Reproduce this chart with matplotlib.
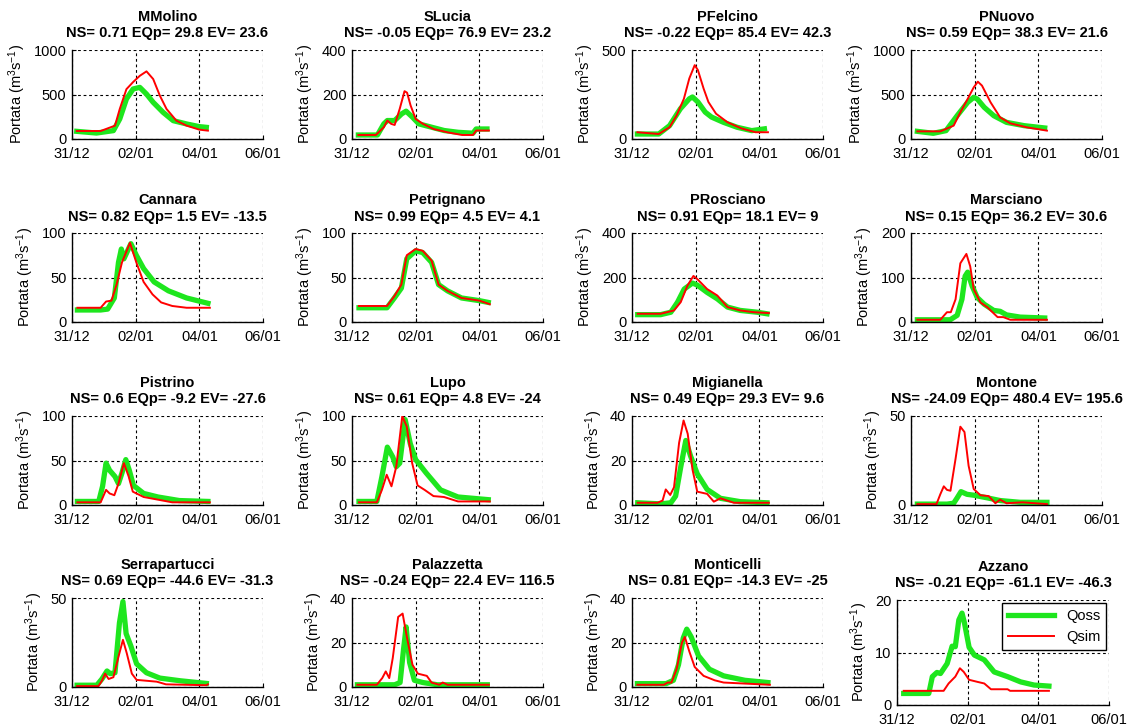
import matplotlib
matplotlib.use("Agg")
import matplotlib.pyplot as plt

# stazioni e statistiche
names = ["MMolino", "SLucia", "PFelcino", "PNuovo",
         "Cannara", "Petrignano", "PRosciano", "Marsciano",
         "Pistrino", "Lupo", "Migianella", "Montone",
         "Serrapartucci", "Palazzetta", "Monticelli", "Azzano"]
stats = ["NS= 0.71 EQp= 29.8 EV= 23.6", "NS= -0.05 EQp= 76.9 EV= 23.2",
         "NS= -0.22 EQp= 85.4 EV= 42.3", "NS= 0.59 EQp= 38.3 EV= 21.6",
         "NS= 0.82 EQp= 1.5 EV= -13.5", "NS= 0.99 EQp= 4.5 EV= 4.1",
         "NS= 0.91 EQp= 18.1 EV= 9", "NS= 0.15 EQp= 36.2 EV= 30.6",
         "NS= 0.6 EQp= -9.2 EV= -27.6", "NS= 0.61 EQp= 4.8 EV= -24",
         "NS= 0.49 EQp= 29.3 EV= 9.6", "NS= -24.09 EQp= 480.4 EV= 195.6",
         "NS= 0.69 EQp= -44.6 EV= -31.3", "NS= -0.24 EQp= 22.4 EV= 116.5",
         "NS= 0.81 EQp= -14.3 EV= -25", "NS= -0.21 EQp= -61.1 EV= -46.3"]
y_ticks = [[0, 500, 1000], [0, 200, 400], [0, 500], [0, 500, 1000],
           [0, 50, 100], [0, 50, 100], [0, 200, 400], [0, 100, 200],
           [0, 50, 100], [0, 50, 100], [0, 20, 40], [0, 50],
           [0, 50], [0, 20, 40], [0, 20, 40], [0, 10, 20]]
x_ticks = [0, 2, 4, 6]
x_labels = ["31/12", "02/01", "04/01", "06/01"]

# (giorni dal 31/12, portata)
mmolino_oss = [(0.15, 86), (0.77, 67), (1.3, 94), (1.5, 225), (1.71, 450), (1.92, 562), (2.13, 580),
               (2.34, 505), (2.55, 412), (2.86, 300), (3.18, 206), (3.6, 169), (4.0, 139), (4.22, 131)]
mmolino_sim = [(0.15, 90), (0.9, 90), (1.35, 150), (1.5, 337), (1.71, 560), (1.92, 640), (2.13, 710),
               (2.34, 760), (2.55, 674), (2.76, 487), (2.97, 337), (3.28, 206), (3.6, 150), (4.0, 105), (4.27, 94)]
slucia_oss = [(0.2, 18), (0.8, 18), (1.0, 68), (1.11, 83), (1.34, 83), (1.56, 113), (1.7, 125),
              (1.9, 98), (2.1, 68), (2.5, 53), (2.9, 38), (3.34, 30), (3.8, 26), (3.9, 45), (4.24, 45)]
slucia_sim = [(0.2, 18), (0.75, 18), (1.0, 53), (1.11, 83), (1.23, 68), (1.34, 63), (1.5, 136),
              (1.65, 215), (1.73, 208), (1.84, 151), (2.0, 90), (2.23, 68), (2.56, 45), (3.0, 30),
              (3.46, 18), (3.8, 18), (3.9, 38), (4.3, 38)]
pfelcino_oss = [(0.17, 28), (0.84, 28), (1.18, 75), (1.52, 170), (1.8, 226), (1.9, 236), (2.07, 208),
                (2.3, 151), (2.5, 123), (2.87, 94), (3.3, 66), (3.76, 47), (4.16, 57)]
pfelcino_sim = [(0.17, 38), (0.84, 28), (1.18, 66), (1.4, 132), (1.63, 226), (1.8, 340), (1.97, 415),
                (2.07, 387), (2.25, 283), (2.4, 208), (2.64, 142), (3.0, 94), (3.43, 60), (3.88, 38), (4.27, 38)]
pnuovo_oss = [(0.2, 86), (0.7, 64), (1.1, 94), (1.45, 262), (1.78, 412), (1.97, 468), (2.08, 450),
              (2.3, 356), (2.6, 262), (3.0, 187), (3.55, 150), (4.2, 124)]
pnuovo_sim = [(0.2, 86), (0.92, 86), (1.34, 150), (1.55, 300), (1.78, 450), (1.97, 580), (2.1, 644),
              (2.23, 600), (2.5, 412), (2.8, 243), (3.12, 176), (3.64, 131), (4.27, 94)]
cannara_oss = [(0.17, 13.5), (0.9, 13.5), (1.12, 14.5), (1.33, 27), (1.46, 67), (1.55, 82), (1.63, 71),
               (1.85, 88), (2.02, 75), (2.25, 60), (2.58, 45), (3.03, 35), (3.6, 27), (4.27, 21)]
cannara_sim = [(0.17, 16), (0.9, 16), (1.07, 23), (1.24, 24), (1.4, 42), (1.57, 67), (1.82, 89),
               (2.02, 67), (2.25, 45), (2.53, 31), (2.8, 22), (3.15, 18), (3.6, 16), (4.33, 16)]
petrignano_oss = [(0.22, 16), (1.1, 16), (1.33, 27), (1.55, 38), (1.72, 71), (2.0, 80), (2.22, 78),
                  (2.5, 67), (2.72, 42), (3.0, 35), (3.44, 27), (4.0, 24), (4.28, 22)]
petrignano_sim = [(0.22, 18), (1.1, 18), (1.33, 29), (1.55, 42), (1.72, 75), (2.0, 82), (2.22, 80),
                  (2.5, 69), (2.72, 42), (3.0, 35), (3.44, 27), (4.0, 24), (4.33, 20)]
prosciano_oss = [(0.18, 33), (0.9, 33), (1.22, 44), (1.43, 89), (1.64, 148), (1.9, 175), (2.05, 166),
                 (2.36, 133), (2.68, 104), (3.0, 67), (3.4, 52), (3.93, 44), (4.24, 37)]
prosciano_sim = [(0.18, 37), (0.9, 37), (1.32, 52), (1.53, 89), (1.74, 163), (1.93, 207), (2.05, 193),
                 (2.36, 148), (2.68, 119), (3.0, 67), (3.4, 52), (3.83, 44), (4.3, 40)]
marsciano_oss = [(0.2, 5), (1.23, 5), (1.45, 15), (1.6, 51), (1.7, 103), (1.78, 112), (1.92, 81),
                 (2.08, 55), (2.3, 40), (2.6, 26), (2.8, 24), (3.0, 16), (3.43, 11), (4.2, 9)]
marsciano_sim = [(0.2, 5), (0.92, 5), (1.13, 22), (1.25, 22), (1.4, 51), (1.55, 132), (1.74, 153),
                 (1.86, 125), (1.97, 74), (2.18, 44), (2.4, 33), (2.72, 11), (2.9, 11), (3.12, 5), (4.27, 5)]
pistrino_oss = [(0.17, 4), (0.84, 4), (0.96, 21), (1.07, 47), (1.18, 39), (1.35, 32), (1.46, 24),
                (1.57, 36), (1.69, 51), (1.8, 39), (1.93, 22), (2.25, 13), (2.7, 9), (3.37, 5), (4.27, 4)]
pistrino_sim = [(0.17, 3), (0.9, 3), (1.07, 17), (1.18, 13), (1.33, 11), (1.46, 24), (1.63, 47),
                (1.78, 32), (1.91, 15), (2.25, 9), (2.7, 6), (3.15, 3), (4.33, 3)]
lupo_oss = [(0.22, 4), (0.78, 4), (0.94, 32), (1.11, 65), (1.28, 54), (1.39, 43), (1.5, 47),
            (1.67, 96), (1.83, 69), (2.0, 51), (2.33, 36), (2.78, 17), (3.33, 9), (4.28, 6)]
lupo_sim = [(0.22, 3), (0.78, 3), (0.94, 17), (1.09, 34), (1.24, 21), (1.39, 43), (1.58, 100),
            (1.72, 88), (1.89, 47), (2.06, 22), (2.28, 17), (2.56, 10), (2.89, 9), (3.33, 4), (4.33, 4)]
migianella_oss = [(0.18, 1), (0.9, 0.5), (1.22, 1), (1.37, 4), (1.53, 17), (1.69, 29), (1.84, 22),
                  (2.05, 14), (2.36, 7), (2.78, 3), (3.4, 1.5), (4.24, 1)]
migianella_sim = [(0.18, 1), (0.8, 1), (0.96, 2), (1.06, 7), (1.2, 4.5), (1.32, 8), (1.48, 28),
                  (1.62, 38), (1.75, 32), (1.9, 16), (2.05, 6), (2.36, 5), (2.57, 1.5), (2.78, 3),
                  (3.2, 1), (4.3, 1)]
montone_oss = [(0.2, 0.5), (1.13, 0.5), (1.34, 1), (1.45, 4), (1.57, 7.5), (1.76, 6), (1.97, 5.5),
               (2.4, 4), (2.8, 2.5), (3.43, 1.5), (4.27, 1.5)]
montone_sim = [(0.2, 0.5), (0.8, 0.5), (0.92, 6), (1.03, 10.5), (1.13, 8.5), (1.24, 8), (1.4, 26),
               (1.55, 44), (1.68, 41), (1.81, 22), (1.97, 9), (2.18, 5.5), (2.44, 5), (2.65, 1),
               (2.8, 3), (3.0, 1), (3.5, 1.5), (4.27, 0.5)]
serrapartucci_oss = [(0.16, 1), (0.78, 1), (0.94, 4.5), (1.1, 9), (1.2, 7.5), (1.35, 8), (1.49, 36),
                     (1.6, 48), (1.7, 30), (1.85, 23), (2.03, 13), (2.34, 8), (2.76, 5), (3.4, 3.5), (4.22, 2)]
serrapartucci_sim = [(0.16, 0.5), (0.83, 0.5), (0.94, 3.5), (1.04, 7.5), (1.15, 4.5), (1.3, 5.5),
                     (1.46, 17), (1.6, 26.5), (1.72, 19), (1.88, 7.5), (2.03, 4), (2.66, 3), (2.76, 2.5),
                     (2.95, 1.5), (4.22, 1), (4.27, 1.5)]
palazzetta_oss = [(0.17, 1), (1.34, 1), (1.51, 2), (1.62, 17), (1.7, 27), (1.81, 11), (1.96, 3),
                  (2.23, 2), (2.68, 1), (4.25, 1)]
palazzetta_sim = [(0.17, 1), (0.78, 1), (0.95, 4), (1.06, 7), (1.17, 4), (1.28, 13), (1.45, 31.5),
                  (1.59, 33), (1.73, 22), (1.9, 10), (2.07, 6), (2.35, 5), (2.5, 2), (2.74, 1),
                  (2.85, 2), (3.0, 1), (4.3, 1)]
monticelli_oss = [(0.17, 1.5), (1.07, 1.5), (1.3, 3), (1.46, 10), (1.61, 22), (1.72, 26), (1.86, 22.5),
                  (2.09, 14), (2.43, 8), (2.88, 5), (3.55, 3), (4.27, 2)]
monticelli_sim = [(0.17, 1), (1.0, 1), (1.12, 2), (1.24, 2), (1.4, 8), (1.57, 20), (1.66, 22.5),
                  (1.8, 16), (1.97, 9), (2.25, 5), (2.6, 3), (2.88, 2), (4.33, 1)]
azzano_oss = [(0.19, 2.2), (0.9, 2.2), (1.0, 5.4), (1.13, 6.2), (1.23, 6.0), (1.42, 7.9), (1.56, 11.2),
              (1.65, 11.1), (1.75, 16.2), (1.84, 17.5), (1.91, 15.6), (2.04, 11.0), (2.19, 9.5),
              (2.47, 8.6), (2.75, 6.3), (3.13, 5.4), (3.5, 4.4), (3.88, 3.8), (4.3, 3.6)]
azzano_sim = [(0.19, 2.7), (1.32, 2.7), (1.46, 4.1), (1.65, 5.4), (1.78, 7.0), (1.89, 6.3), (2.04, 4.8),
              (2.28, 4.4), (2.47, 4.1), (2.66, 3.0), (3.13, 3.0), (3.2, 2.7), (4.3, 2.7)]

q_oss = [mmolino_oss, slucia_oss, pfelcino_oss, pnuovo_oss,
         cannara_oss, petrignano_oss, prosciano_oss, marsciano_oss,
         pistrino_oss, lupo_oss, migianella_oss, montone_oss,
         serrapartucci_oss, palazzetta_oss, monticelli_oss, azzano_oss]
q_sim = [mmolino_sim, slucia_sim, pfelcino_sim, pnuovo_sim,
         cannara_sim, petrignano_sim, prosciano_sim, marsciano_sim,
         pistrino_sim, lupo_sim, migianella_sim, montone_sim,
         serrapartucci_sim, palazzetta_sim, monticelli_sim, azzano_sim]

plt.rcParams['font.family'] = ['Liberation Sans', 'DejaVu Sans']
plt.rcParams['mathtext.fontset'] = 'custom'
plt.rcParams['mathtext.rm'] = 'Liberation Sans'
plt.rcParams['mathtext.default'] = 'regular'

W, H = 1128, 726
fig = plt.figure(figsize=(W / 100, H / 100), dpi=100)

col_left = [72, 352, 632, 911]
row_top = [50, 233, 416, 598]
aw, ah = 191, 89

for k in range(16):
    r, c = k // 4, k % 4
    if k == 15:
        x0, y0, w, h = 897, 600, 212, 105
    else:
        x0, y0, w, h = col_left[c], row_top[r], aw, ah
    ax = fig.add_axes([x0 / W, 1 - (y0 + h) / H, w / W, h / H])
    to = [p[0] for p in q_oss[k]]
    vo = [p[1] for p in q_oss[k]]
    ts = [p[0] for p in q_sim[k]]
    vs = [p[1] for p in q_sim[k]]
    ax.plot(to, vo, color='#1ee61e', lw=3.8, solid_joinstyle='round', label='Qoss')
    ax.plot(ts, vs, color='#ff0000', lw=1.4, label='Qsim')
    ax.set_xlim(0, 6)
    ax.set_ylim(0, y_ticks[k][-1])
    ax.set_xticks(x_ticks)
    ax.set_xticklabels(x_labels)
    ax.set_yticks(y_ticks[k])
    ax.tick_params(direction='in', length=3, labelsize=10.5)
    ax.tick_params(axis='x', pad=6)
    ax.tick_params(axis='y', pad=4)
    ax.grid(True, color='black', linestyle=(0, (2.5, 2.5)), linewidth=0.8)
    for s in ['top', 'right']:
        ax.spines[s].set_visible(False)
    for s in ['left', 'bottom']:
        ax.spines[s].set_linewidth(1.0)
    ax.set_title(names[k] + "\n" + stats[k], fontsize=10.5, fontweight='bold', pad=9)
    ax.set_ylabel('Portata (m$^3$s$^{-1}$)', fontsize=10.5, labelpad=4)
    if k == 15:
        leg = ax.legend(loc='upper right', fontsize=10.5, fancybox=False, framealpha=1,
                        edgecolor='black', handlelength=3.2, borderaxespad=0.2)
        leg.get_frame().set_linewidth(1.0)

fig.savefig("out.png", dpi=100)
